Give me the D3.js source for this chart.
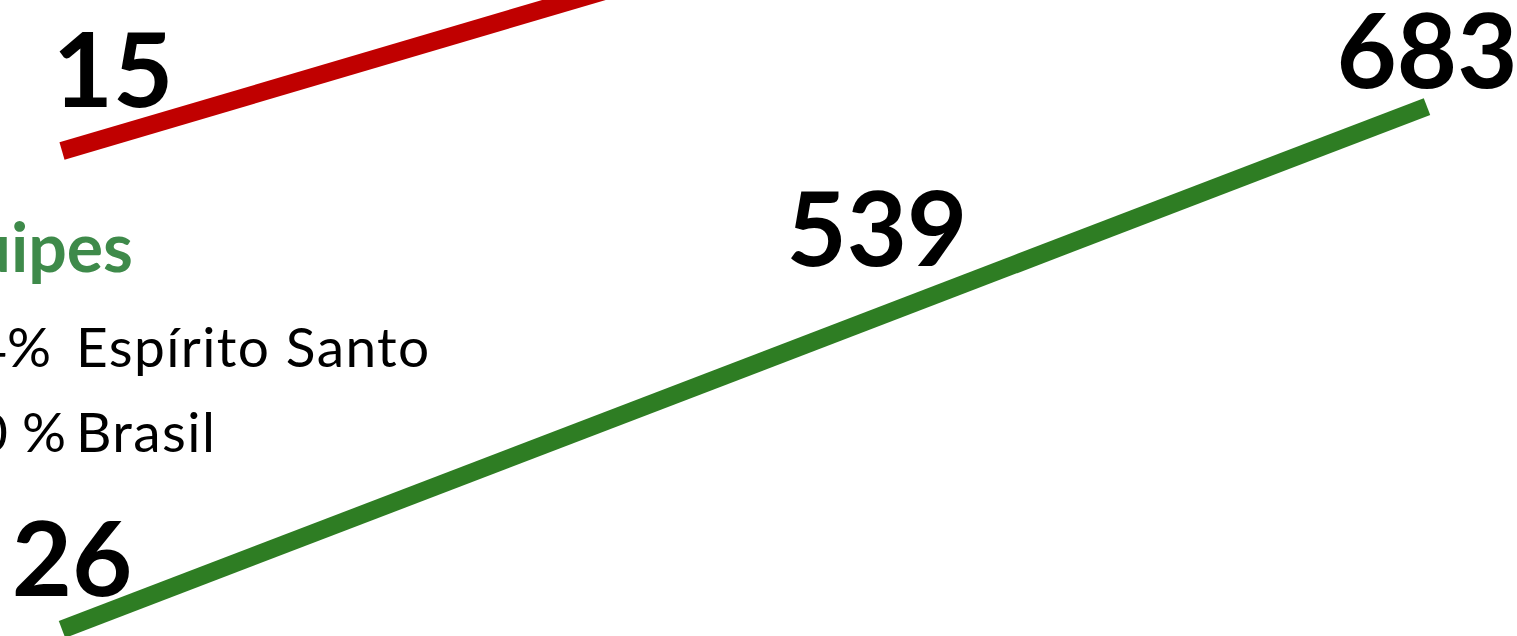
<!DOCTYPE html>
<html>
<head>
<meta charset="utf-8">
<script src="https://cdn.jsdelivr.net/npm/d3@7"></script>
<style>
  html, body { margin: 0; padding: 0; background: #ffffff; }
  svg { display: block; }
  text { font-family: Lato, "Open Sans", sans-serif; }
</style>
</head>
<body>
<svg id="chart" width="1517" height="636"></svg>
<script>
// ---- data ----
const periods = ["início", "fim"];
const redValues = [15, 48];            // second point lies off the visible crop
const redLabels = ["15", null];
const greenValues = [26, 683];
const greenLabels = ["26", "683"];
const greenNote = ["539"];
const legendTitle = ["Equipes"];
const legendPct = ["4%", "0 %"];
const legendNames = ["Espírito Santo", "Brasil"];

// ---- drawing ----
const W = 1517, H = 636;
const svg = d3.select("#chart");
svg.append("rect").attr("width", W).attr("height", H).attr("fill", "#ffffff");

const x = d3.scalePoint().domain(periods).range([62, 1427]);
const yGreen = d3.scaleLinear().domain([0, 700]).range([650.2, 93]);
const yRed = d3.scaleLinear().domain([0, 50]).range([334, -276]);

const RED = "#c00000", GREEN = "#2e7d23", TITLE_GREEN = "#3e8a4a";

function drawSeries(vals, yScale, color) {
  const pts = periods.map((p, i) => ({ p, v: vals[i] }));
  const line = d3.line().x(d => x(d.p)).y(d => yScale(d.v));
  svg.append("path")
    .datum(pts)
    .attr("d", line)
    .attr("fill", "none")
    .attr("stroke", color)
    .attr("stroke-width", 18)
    .attr("stroke-linecap", "butt");
  return pts;
}

drawSeries(redValues, yRed, RED);
drawSeries(greenValues, yGreen, GREEN);

// value labels (offsets relative to each point)
function valueLabel(px, py, txt) {
  svg.append("text")
    .attr("x", px).attr("y", py)
    .attr("text-anchor", "middle")
    .attr("font-size", 104)
    .attr("font-weight", 700)
    .attr("fill", "#000")
    .text(txt);
}
valueLabel(x(periods[0]) + 51, yRed(redValues[0]) - 44, redLabels[0]);
valueLabel(x(periods[0]) + 10, yGreen(greenValues[0]) - 33.5, greenLabels[0]);
valueLabel(x(periods[1]), yGreen(greenValues[1]) - 18.5, greenLabels[1]);
{
  const t = 0.597;
  const nx = x(periods[0]) + t * (x(periods[1]) - x(periods[0]));
  const ny = yGreen(greenValues[0]) + t * (yGreen(greenValues[1]) - yGreen(greenValues[0]));
  valueLabel(nx, ny - 51, greenNote[0]);
}

// legend block (partly cropped at the left edge, as in the reference)
svg.append("text")
  .attr("x", 133).attr("y", 272)
  .attr("text-anchor", "end")
  .attr("font-size", 68)
  .attr("font-weight", 700)
  .attr("fill", TITLE_GREEN)
  .text(legendTitle[0]);

const rowsY = [367, 452];
const pctX = [51, 66];
legendNames.forEach((name, i) => {
  svg.append("text")
    .attr("x", pctX[i]).attr("y", rowsY[i])
    .attr("text-anchor", "end")
    .attr("font-size", 55)
    .attr("fill", "#000")
    .text(legendPct[i]);
  svg.append("text")
    .attr("x", 76).attr("y", rowsY[i])
    .attr("font-size", 55)
    .attr("letter-spacing", 1.4)
    .attr("fill", "#000")
    .text(name);
});
</script>
</body>
</html>
